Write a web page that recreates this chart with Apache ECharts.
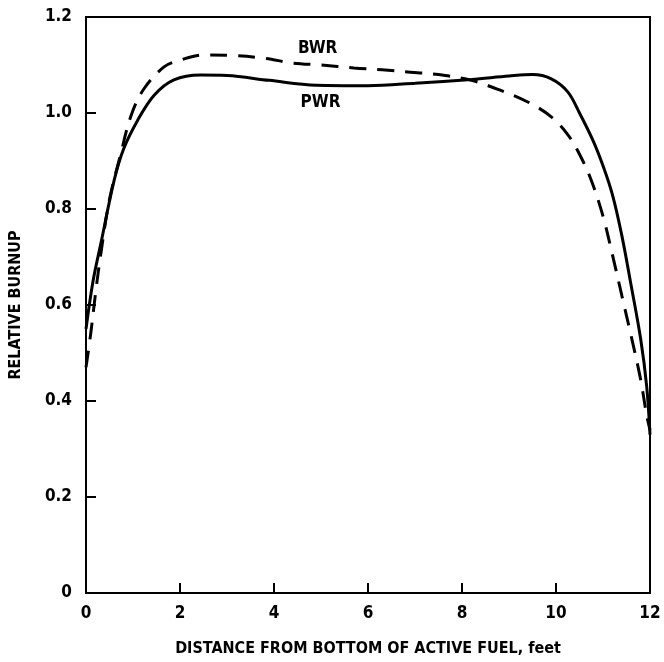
<!DOCTYPE html>
<html>
<head>
<meta charset="utf-8">
<script src="https://cdn.jsdelivr.net/npm/echarts@6/dist/echarts.min.js"></script>
<style>
  html, body { margin: 0; padding: 0; background: #fff; }
  #chart { width: 664px; height: 662px; }
</style>
</head>
<body>
<div id="chart"></div>
<script>
// distance from bottom of active fuel (feet) and relative burnup
const pwrDist = [0, 0.15, 0.32, 0.6, 0.8, 1.1, 1.45, 1.87, 2.44, 3.0, 3.9, 4.9, 6.0, 7.0, 8.2, 9.0, 9.5, 9.9, 10.25, 10.5, 10.8, 11.0, 11.2, 11.4, 11.6, 11.8, 11.93, 12];
const pwrBurnup = [0.55, 0.65, 0.73, 0.86, 0.925, 0.985, 1.037, 1.069, 1.079, 1.078, 1.068, 1.058, 1.057, 1.062, 1.07, 1.077, 1.08, 1.071, 1.044, 1.0, 0.94, 0.89, 0.83, 0.745, 0.64, 0.53, 0.43, 0.33];

const bwrDist = [0, 0.1, 0.21, 0.32, 0.5, 0.74, 0.96, 1.23, 1.66, 2.0, 2.5, 3.1, 3.8, 4.4, 5.0, 5.7, 6.3, 6.9, 7.5, 8.2, 8.8, 9.4, 9.9, 10.25, 10.5, 10.75, 11.0, 11.2, 11.4, 11.6, 11.8, 11.93, 12];
const bwrBurnup = [0.47, 0.54, 0.63, 0.71, 0.82, 0.915, 0.995, 1.05, 1.096, 1.11, 1.121, 1.12, 1.114, 1.104, 1.1, 1.094, 1.09, 1.085, 1.08, 1.068, 1.048, 1.023, 0.992, 0.955, 0.914, 0.86, 0.785, 0.705, 0.62, 0.535, 0.445, 0.37, 0.34];

// where the curve names sit, in data units
const curveLabels = {
  BWR: [4.93, 1.135],
  PWR: [4.99, 1.022],
};

const FONT = 'DejaVu Sans Condensed';

let chart = echarts.init(document.getElementById('chart'));

function pairs(xs, ys) {
  return xs.map((x, i) => [x, ys[i]]);
}

function labelMark(name) {
  return {
    symbol: 'circle',
    symbolSize: 0,
    silent: true,
    label: {
      show: true,
      position: 'inside',
      formatter: name,
      color: '#000',
      fontFamily: FONT,
      fontWeight: 'bold',
      fontSize: 17,
    },
    data: [{ coord: curveLabels[name] }],
  };
}

let option = {
  animation: false,
  backgroundColor: '#fff',
  grid: {
    left: 85,
    right: 14,
    top: 17,
    bottom: 66,
    show: true,
    borderColor: '#000',
    borderWidth: 2,
  },
  xAxis: {
    type: 'value',
    min: 0,
    max: 12,
    interval: 2,
    name: 'DISTANCE FROM BOTTOM OF ACTIVE FUEL, feet',
    nameLocation: 'middle',
    nameGap: 48,
    nameTextStyle: { color: '#000', fontFamily: FONT, fontWeight: 'bold', fontSize: 16 },
    axisLine: { lineStyle: { color: '#000', width: 2 } },
    axisTick: { inside: true, length: 10, lineStyle: { color: '#000', width: 2 } },
    axisLabel: { color: '#000', fontFamily: FONT, fontWeight: 'bold', fontSize: 17, margin: 12 },
    splitLine: { show: false },
  },
  yAxis: {
    type: 'value',
    min: 0,
    max: 1.2,
    interval: 0.2,
    name: 'RELATIVE BURNUP',
    nameLocation: 'middle',
    nameGap: 62,
    nameTextStyle: { color: '#000', fontFamily: FONT, fontWeight: 'bold', fontSize: 16 },
    axisLine: { lineStyle: { color: '#000', width: 2 } },
    axisTick: { inside: true, length: 10, lineStyle: { color: '#000', width: 2 } },
    axisLabel: {
      color: '#000',
      fontFamily: FONT,
      fontWeight: 'bold',
      fontSize: 17,
      margin: 14,
      formatter: (v) => (v === 0 ? '0' : v.toFixed(1)),
    },
    splitLine: { show: false },
  },
  series: [
    {
      name: 'PWR',
      type: 'line',
      smooth: 0.35,
      showSymbol: false,
      data: pairs(pwrDist, pwrBurnup),
      lineStyle: { color: '#000', width: 3 },
      markPoint: labelMark('PWR'),
    },
    {
      name: 'BWR',
      type: 'line',
      smooth: 0.35,
      showSymbol: false,
      data: pairs(bwrDist, bwrBurnup),
      lineStyle: { color: '#000', width: 3, type: [17, 11] },
      markPoint: labelMark('BWR'),
    },
  ],
};

chart.setOption(option);
</script>
</body>
</html>
